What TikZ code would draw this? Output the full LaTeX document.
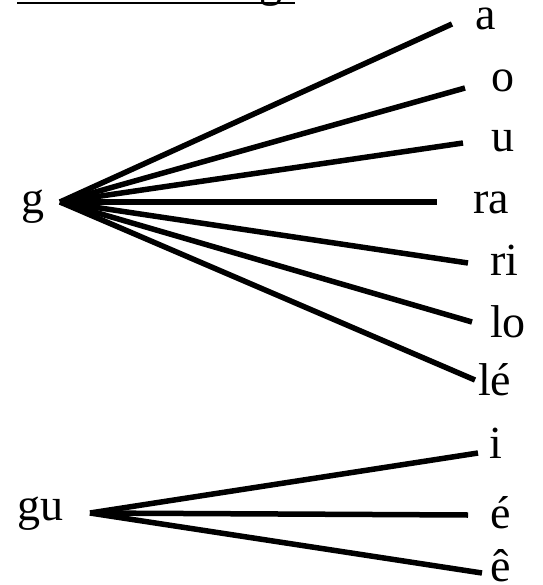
\documentclass[tikz,border=0pt]{standalone}
\usepackage{fontspec}
\setmainfont{Liberation Serif}
\begin{document}
\begin{tikzpicture}[x=1pt,y=-1pt,
  lbl/.style={anchor=base west,inner sep=0pt,font=\fontsize{46}{50}\selectfont},
  fan/.style={line width=5.5pt}]
\useasboundingbox (0,0) rectangle (542,585);
\begin{scope}
\clip (0,0) rectangle (542,585);
\node[lbl] (top) at (259,-3) {g};
\coordinate (ul1) at (17,3);
\coordinate (ul2) at (295,3);
\draw[line width=2.5pt] (ul1) -- (ul2);
\end{scope}
% g fan
\node[lbl] (g) at (21,213) {g};
\coordinate (go) at (60,202);
\coordinate (ea) at (452,24);
\coordinate (eo) at (465,88);
\coordinate (eu) at (463,143);
\coordinate (era) at (437,202);
\coordinate (eri) at (468,263);
\coordinate (elo) at (472,322);
\coordinate (ele) at (475,380);
\node[lbl] (a) at (475,30) {a};
\node[lbl] (o) at (491,92) {o};
\node[lbl] (u) at (491,152) {u};
\node[lbl] (ra) at (473,213) {ra};
\node[lbl] (ri) at (490,275) {ri};
\node[lbl] (lo) at (490,337) {lo};
\node[lbl] (le) at (478,395) {lé};
\foreach \e in {ea,eo,eu,era,eri,elo,ele} \draw[fan] (go) -- (\e);
% gu fan
\node[lbl] (gu) at (17,520) {gu};
\coordinate (guo) at (90,513);
\coordinate (ei) at (478,453);
\coordinate (eee) at (468,515);
\coordinate (eec) at (482,573);
\node[lbl] (i) at (489,458) {i};
\node[lbl] (eacute) at (490,528) {é};
\node[lbl] (ecirc) at (490,581) {ê};
\foreach \e in {ei,eee,eec} \draw[fan] (guo) -- (\e);
\end{tikzpicture}
\end{document}
